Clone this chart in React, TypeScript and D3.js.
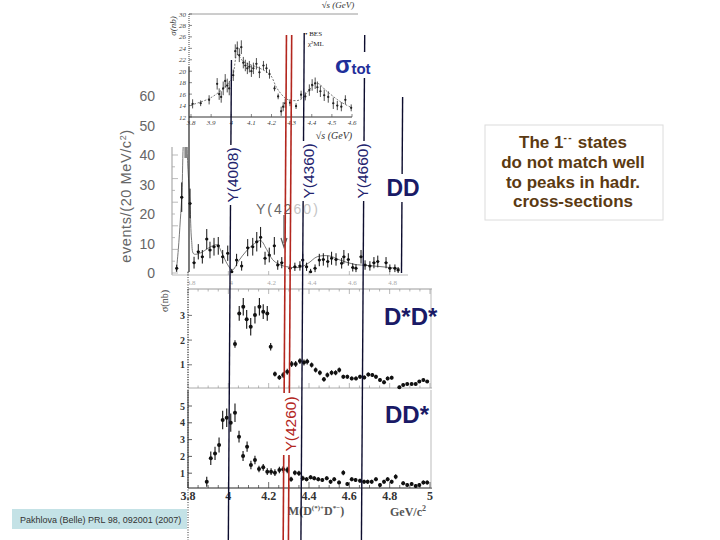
import React from "react";
import * as d3 from "d3";

// ---------------- data ----------------
// Top inset: BES R-scan, sigma(nb) vs sqrt(s) (GeV)
const besE = [3.808,3.848,3.890,3.930,3.940,3.950,3.960,3.970,3.980,3.990,4.010,4.020,4.030,4.040,4.050,4.060,4.070,4.080,4.090,4.100,4.110,4.125,4.140,4.160,4.175,4.190,4.215,4.233,4.248,4.258,4.268,4.292,4.322,4.347,4.368,4.388,4.402,4.417,4.428,4.443,4.462,4.482,4.507,4.527,4.547,4.567,4.596];
const besSigma = [14.3,14.4,15.0,17.8,16.0,15.5,17.0,18.3,17.5,17.0,19.3,23.5,24.0,22.8,24.2,21.5,21.0,20.5,20.8,20.0,20.5,21.3,19.8,21.0,20.5,19.5,17.0,15.6,13.0,13.8,14.4,14.5,13.9,15.9,15.6,16.7,17.6,17.9,17.2,16.5,15.8,15.5,14.4,14.0,13.8,15.0,13.6];
const besErr = [0.8,0.5,0.8,1.0,1.0,1.0,1.2,1.2,1.2,1.2,1.0,1.2,1.2,1.2,1.2,1.0,1.0,1.0,1.0,1.0,1.0,1.0,1.0,0.8,0.8,0.8,0.5,0.5,0.8,0.8,0.8,0.6,0.5,0.7,0.7,1.0,1.0,1.0,1.0,1.0,1.0,1.0,1.0,0.8,0.8,0.8,0.6];
const besFitE = [3.80,3.895,3.978,4.007,4.030,4.060,4.143,4.193,4.226,4.259,4.284,4.342,4.375,4.425,4.475,4.541,4.600];
const besFitSigma = [14.1,15.3,17.6,19.2,22.9,21.7,20.5,19.4,17.1,15.6,15.0,15.0,16.2,17.9,16.5,14.7,13.6];
const besYTicks = [12,14,16,18,20,22,24,26,28,30];
const besXTicks = [3.8,3.9,4.0,4.1,4.2,4.3,4.4,4.5,4.6];
const besXLabels = ["3.8","3.9","4","4.1","4.2","4.3","4.4","4.5","4.6"];

// Middle: D Dbar events / (20 MeV/c^2)
const ddMass = [3.744,3.769,3.810,3.830,3.851,3.871,3.893,3.909,3.929,3.950,3.972,3.997,4.017,4.041,4.066,4.096,4.121,4.141,4.160,4.182,4.203,4.228,4.245,4.265,4.306,4.330,4.355,4.369,4.388,4.408,4.430,4.451,4.471,4.493,4.512,4.534,4.562,4.573,4.595,4.617,4.633,4.658,4.678,4.702,4.722,4.741,4.782,4.801,4.826,4.842];
const ddEvents = [1.6,25.7,23.6,3.5,7.2,5.5,11.5,7.8,8.9,9.2,5.5,6.7,0.4,4.4,2.4,8.6,8.9,10.6,12.1,5.0,6.1,9.2,2.7,3.5,1.6,2.1,2.4,4.4,2.1,0.4,1.6,4.4,4.6,3.9,5.0,4.6,3.3,5.5,4.6,1.9,1.6,5.5,2.7,2.4,3.5,3.9,3.5,1.6,1.6,1.0];
const ddErr = [1.2,5,5,2,2.6,2.3,3.4,2.8,3,3,2.3,2.6,1,2.1,1.6,2.9,3,3.3,3.5,2.2,2.5,3,1.6,1.9,1.3,1.4,1.6,2.1,1.4,1,1.3,2.1,2.1,2,2.2,2.1,1.8,2.3,2.1,1.4,1.3,2.3,1.6,1.6,1.9,2,1.9,1.3,1.3,1];
const ddFitMass = [3.742,3.752,3.762,3.770,3.778,3.788,3.800,3.810,3.818,3.828,3.850,3.880,3.915,3.945,3.970,3.995,4.020,4.050,4.090,4.130,4.160,4.190,4.220,4.250,4.300,4.360,4.400,4.440,4.500,4.550,4.620,4.700,4.780,4.850];
const ddFitEvents = [0.5,8,18,27,45,50,35,23,11,6.5,6.5,7.5,9,9.5,6.5,3,1,4,7.5,10,11,8,4.5,3,2,2,3.5,5.5,5.8,4.5,3,2.5,2,1.5];
const ddYTicks = [0,10,20,30,40,50,60];
const ddXTicks = [3.8,4.0,4.2,4.4,4.6,4.8];
const ddXLabels = ["3.8","4","4.2","4.4","4.6","4.8"];

// D* D*bar sigma (nb)
const dsMass = [4.033,4.054,4.074,4.091,4.111,4.132,4.154,4.173,4.193,4.210,4.231,4.253,4.272,4.292,4.314,4.334,4.355,4.375,4.391,4.413,4.433,4.454,4.474,4.491,4.512,4.532,4.550,4.570,4.590,4.612,4.633,4.653,4.674,4.694,4.714,4.732,4.752,4.772,4.790,4.810,4.848,4.867,4.887,4.909,4.929,4.947,4.967,4.986];
const dsSigma = [1.84,3.08,3.35,2.84,2.54,3.02,3.35,3.15,3.08,1.73,0.63,0.49,0.59,0.72,1.03,1.03,1.15,1.09,1.13,0.99,0.79,0.68,0.41,0.59,0.68,0.68,0.79,0.52,0.52,0.45,0.45,0.52,0.49,0.61,0.59,0.52,0.38,0.29,0.45,0.48,0.09,0.18,0.22,0.22,0.22,0.32,0.38,0.32];
const dsErr = [0.15,0.3,0.35,0.38,0.35,0.35,0.35,0.3,0.3,0.15,0.1,0.1,0.12,0.12,0.12,0.12,0.12,0.12,0.12,0.1,0.1,0.1,0.1,0.1,0.1,0.1,0.1,0.08,0.08,0.08,0.08,0.08,0.08,0.08,0.08,0.08,0.08,0.08,0.08,0.08,0.06,0.06,0.06,0.06,0.06,0.06,0.06,0.06];
const dsYTicks = [1,2,3];

// D D*bar sigma (nb)
const dsdMass = [3.893,3.913,3.934,3.954,3.972,3.992,4.012,4.033,4.053,4.073,4.093,4.112,4.132,4.152,4.173,4.193,4.212,4.231,4.253,4.272,4.292,4.311,4.330,4.350,4.369,4.388,4.408,4.426,4.446,4.466,4.488,4.507,4.525,4.549,4.570,4.590,4.612,4.631,4.653,4.673,4.691,4.711,4.732,4.752,4.772,4.790,4.810,4.830,4.867,4.887,4.909,4.929,4.947,4.967,4.986];
const dsdSigma = [0.49,1.89,2.18,2.68,4.17,4.30,4.01,4.60,3.17,2.02,2.58,1.49,1.79,1.25,1.35,1.09,1.09,1.03,1.19,1.23,1.19,0.64,1.03,0.99,0.70,0.64,0.76,0.70,0.64,0.60,0.70,0.49,0.64,0.44,1.03,0.36,0.64,0.60,0.55,0.49,0.49,0.49,0.64,0.30,0.49,0.64,0.49,0.79,0.40,0.30,0.36,0.24,0.30,0.44,0.44];
const dsdErr = [0.3,0.4,0.4,0.45,0.55,0.55,0.55,0.55,0.35,0.3,0.3,0.25,0.25,0.2,0.2,0.2,0.2,0.2,0.2,0.2,0.2,0.15,0.15,0.15,0.15,0.12,0.12,0.12,0.12,0.12,0.12,0.12,0.12,0.12,0.15,0.12,0.12,0.12,0.12,0.12,0.12,0.12,0.12,0.12,0.12,0.12,0.12,0.15,0.12,0.12,0.12,0.12,0.12,0.12,0.12];
const dsdYTicks = [1,2,3,4,5];
const dsdXTicks = [3.8,4.0,4.2,4.4,4.6,4.8,5.0];
const dsdXLabels = ["3.8","4","4.2","4.4","4.6","4.8","5"];

// Resonance marker lines (GeV)
const resMass = [4.0, 4.36, 4.66];
const resLabels = ["Y(4008)", "Y(4360)", "Y(4660)"];
const y4260Mass = [4.272, 4.298];
const ddThreshMass = 4.85;

const panelLabels = ["DD", "D*D*", "DD*"];
const noteLines = ["do not match well", "to peaks in hadr.", "cross-sections"];
const citation = "Pakhlova (Belle) PRL 98, 092001 (2007)";

// ---------------- drawing ----------------
const serif = "'Liberation Serif', 'DejaVu Serif', serif";
const sans = "'Liberation Sans', Arial, sans-serif";
const navy = "#23236e";
const lineCol = "#0d0d2e";

type PtsProps = { xs: number[]; ys: number[]; es: number[]; x: any; y: any; r?: number; sw?: number; hw?: number; color?: string };
function Points({ xs, ys, es, x, y, r = 2, sw = 1, hw = 1.2, color = "#111" }: PtsProps) {
  const ymin = y.domain()[0];
  return (
    <g>
      {xs.map((m, i) => {
        const cx = x(m), cy = y(ys[i]);
        return (
          <g key={i}>
            <line x1={cx} x2={cx} y1={y(ys[i] + es[i])} y2={y(Math.max(ys[i] - es[i], ymin))} stroke={color} strokeWidth={sw} />
            <line x1={cx - hw} x2={cx + hw} y1={cy} y2={cy} stroke={color} strokeWidth={sw} />
            <circle cx={cx} cy={cy} r={r} fill={color} />
          </g>
        );
      })}
    </g>
  );
}

export default function App() {
  const W = 720, H = 540;
  const xG = d3.scaleLinear().domain([3.8, 5.0]).range([188, 430]);
  const tilt = (yy: number) => (3.5 * (540 - yy)) / 540;
  const xIn = d3.scaleLinear().domain([3.8, 4.6]).range([191, 352]);
  const yIn = d3.scaleLinear().domain([12, 30]).range([117, 14]);
  const yMid = d3.scaleLinear().domain([0, 60]).range([273, 96]);
  const yDs = d3.scaleLinear().domain([0, 3]).range([389.5, 315.4]);
  const yDD = d3.scaleLinear().domain([0, 5]).range([490, 406]);

  const besLine = d3.line<number>().x((d, i) => xIn(besFitE[i])).y((d) => yIn(d)).curve(d3.curveCatmullRom);
  const ddLine = d3.line<number>().x((d, i) => xG(ddFitMass[i])).y((d) => yMid(d)).curve(d3.curveCatmullRom);

  const minorDsd = d3.range(3.8, 5.0001, 0.05);
  const minorDs = d3.range(3.8, 5.0001, 0.05);
  const midYTicks = d3.range(0, 44, 4);

  const vx = (m: number, yy: number) => xG(m) + tilt(yy);
  const resOffset = [2, 5, -1];
  const resCenterY = [175, 171, 171];
  const resTop = [60, 33, 35];

  return (
    <svg width={W} height={H} viewBox={`0 0 ${W} ${H}`} style={{ position: "absolute", left: 0, top: 0, background: "#fff" }}>
      <rect x={0} y={0} width={W} height={H} fill="#fff" />
      <defs>
        <clipPath id="midclip"><rect x={172} y={147} width={240} height={130} /></clipPath>
      </defs>

      {/* ---------- top inset (BES) ---------- */}
      <text x={338} y={8} fontFamily={serif} fontStyle="italic" fontSize={9} fill="#333" textAnchor="middle">√s (GeV)</text>
      <line x1={189} x2={358} y1={yIn(30)} y2={yIn(30)} stroke="#9a9a9a" strokeWidth={1} />
      <line x1={189} x2={189} y1={yIn(30)} y2={67} stroke="#444" strokeWidth={1} strokeDasharray="1,1" />
      <line x1={189} x2={352} y1={yIn(12)} y2={yIn(12)} stroke="#333" strokeWidth={1} />
      {besYTicks.map((t) => (
        <g key={"by" + t}>
          <line x1={189} x2={192} y1={yIn(t)} y2={yIn(t)} stroke="#555" strokeWidth={0.7} />
          <text x={186} y={yIn(t) + 2.5} fontFamily={serif} fontStyle="italic" fontSize={7} fill="#444" textAnchor="end">{t}</text>
        </g>
      ))}
      {besXTicks.map((t, i) => (
        <g key={"bx" + t}>
          <line x1={xIn(t)} x2={xIn(t)} y1={yIn(12)} y2={yIn(12) - 3} stroke="#555" strokeWidth={0.7} />
          <text x={xIn(t)} y={125} fontFamily={serif} fontStyle="italic" fontSize={7} fill="#444" textAnchor="middle">{besXLabels[i]}</text>
        </g>
      ))}
      <text x={334} y={138.5} fontFamily={serif} fontStyle="italic" fontSize={10} fill="#333" textAnchor="middle">√s (GeV)</text>
      <text transform={`translate(176,26) rotate(-90)`} fontFamily={serif} fontStyle="italic" fontSize={9} fill="#333" textAnchor="middle">σ(nb)</text>
      <path d={besLine(besFitSigma) || ""} fill="none" stroke="#555" strokeWidth={0.8} strokeDasharray="2,1.5" />
      <Points xs={besE} ys={besSigma} es={besErr} x={xIn} y={yIn} r={1.1} sw={0.8} hw={0.8} color="#222" />
      <text x={305} y={36} fontFamily={serif} fontSize={7} fill="#222">• BES</text>
      <text x={308} y={46} fontFamily={serif} fontSize={7} fill="#222">χ²ML</text>

      {/* ---------- middle panel (D Dbar) ---------- */}
      {ddYTicks.map((t) => (
        <text key={"my" + t} x={155} y={yMid(t) + 5} fontFamily={sans} fontSize={14} fill="#666" textAnchor="end">{t}</text>
      ))}
      <text transform={`translate(131,196) rotate(-90)`} fontFamily={sans} fontSize={14.5} letterSpacing={0.6} fill="#666" textAnchor="middle">
        events/(20 MeV/c<tspan dy={-5} fontSize={9}>2</tspan><tspan dy={5}>)</tspan>
      </text>
      <line x1={172} x2={172} y1={147} y2={275} stroke="#999" strokeWidth={1} />
      {midYTicks.map((t) => (
        <line key={"mt" + t} x1={172} x2={t % 8 === 0 ? 178 : 175} y1={yMid(t)} y2={yMid(t)} stroke="#aaa" strokeWidth={0.8} />
      ))}
      <line x1={172} x2={408} y1={275} y2={275} stroke="#bbb" strokeWidth={1} />
      {ddXTicks.map((t, i) => (
        <g key={"mx" + t}>
          <line x1={xG(t)} x2={xG(t)} y1={275} y2={271} stroke="#aaa" strokeWidth={0.8} />
          <text x={xG(t) + 3} y={285} fontFamily={serif} fontSize={7} fill="#aaa" textAnchor="middle">{ddXLabels[i]}</text>
        </g>
      ))}
      <g clipPath="url(#midclip)">
        <path d={ddLine(ddFitEvents) || ""} fill="none" stroke="#777" strokeWidth={1} />
        <rect x={xG(3.782)} y={147} width={3} height={11} fill="#888" />
      </g>
      <Points xs={ddMass} ys={ddEvents} es={ddErr} x={xG} y={yMid} r={1.5} sw={1} hw={1.5} color="#111" />
      <text x={256} y={214} fontFamily={sans} fontSize={14} fill="#666" letterSpacing={2}>
        Y(42<tspan fill="#c4c4c4">60)</tspan>
      </text>
      <line x1={vx(4.266, 230)} x2={vx(4.266, 230)} y1={215} y2={243} stroke="#555" strokeWidth={1.2} />
      <path d={`M${vx(4.266, 230) - 3},${238} L${vx(4.266, 230)},${247} L${vx(4.266, 230) + 3},${238}`} fill="none" stroke="#555" strokeWidth={1.2} />

      {/* ---------- D* D*bar panel ---------- */}
      <line x1={188} x2={432} y1={289} y2={289} stroke="#9a9a9a" strokeWidth={1} />
      <line x1={431} x2={431} y1={289} y2={388} stroke="#bbb" strokeWidth={1} />
      <line x1={188} x2={432} y1={388} y2={388} stroke="#aaa" strokeWidth={1} />
      {minorDs.map((t, i) => (
        <g key={"dsm" + i}>
          <line x1={xG(t)} x2={xG(t)} y1={388} y2={i % 4 === 0 ? 383 : 385.5} stroke="#999" strokeWidth={0.7} />
          <line x1={xG(t)} x2={xG(t)} y1={289} y2={i % 4 === 0 ? 294 : 291.5} stroke="#999" strokeWidth={0.7} />
        </g>
      ))}
      <line x1={188} x2={188} y1={289} y2={388} stroke="#555" strokeWidth={1} strokeDasharray="1,1.5" />
      {dsYTicks.map((t) => (
        <g key={"dsy" + t}>
          <line x1={188} x2={192} y1={yDs(t)} y2={yDs(t)} stroke="#555" strokeWidth={0.8} />
          <text x={185} y={yDs(t) + 3.5} fontFamily={serif} fontWeight="bold" fontSize={10} fill="#333" textAnchor="end">{t}</text>
        </g>
      ))}
      <text transform={`translate(168,301) rotate(-90)`} fontFamily={serif} fontSize={10} fill="#444" textAnchor="middle">σ(nb)</text>
      <Points xs={dsMass} ys={dsSigma} es={dsErr} x={xG} y={yDs} r={2} sw={1.1} hw={1.2} color="#111" />

      {/* ---------- D D*bar panel ---------- */}
      <line x1={188} x2={432} y1={488} y2={488} stroke="#222" strokeWidth={1} />
      <line x1={431} x2={431} y1={390} y2={488} stroke="#bbb" strokeWidth={1} />
      <line x1={188} x2={188} y1={390} y2={488} stroke="#222" strokeWidth={1} />
      {minorDsd.map((t, i) => (
        <line key={"dm" + i} x1={xG(t)} x2={xG(t)} y1={488} y2={i % 4 === 0 ? 482 : 485} stroke="#333" strokeWidth={0.7} />
      ))}
      {dsdYTicks.map((t) => (
        <g key={"ddy" + t}>
          <line x1={188} x2={192} y1={yDD(t)} y2={yDD(t)} stroke="#333" strokeWidth={0.8} />
          <text x={185} y={yDD(t) + 3.5} fontFamily={serif} fontWeight="bold" fontSize={10} fill="#333" textAnchor="end">{t}</text>
        </g>
      ))}
      {dsdXTicks.map((t, i) => (
        <text key={"ddx" + t} x={xG(t)} y={500} fontFamily={serif} fontWeight="bold" fontSize={12} fill="#333" textAnchor="middle">{dsdXLabels[i]}</text>
      ))}
      <text x={316} y={515} fontFamily={serif} fontWeight="bold" fontSize={12} fill="#555" textAnchor="middle">
        M(D<tspan dy={-5} fontSize={7}>(*)+</tspan><tspan dy={5}>D</tspan><tspan dy={-5} fontSize={7}>*−</tspan><tspan dy={5}>)</tspan>
      </text>
      <text x={408} y={516} fontFamily={serif} fontWeight="bold" fontSize={12} fill="#555" textAnchor="middle">
        GeV/c<tspan dy={-5} fontSize={8}>2</tspan>
      </text>
      <Points xs={dsdMass} ys={dsdSigma} es={dsdErr} x={xG} y={yDD} r={2} sw={1.1} hw={1.2} color="#111" />

      {/* ---------- vertical marker lines ---------- */}
      <line x1={189} x2={189} y1={67} y2={272} stroke="#222" strokeWidth={1.2} />
      <line x1={188} x2={188} y1={272} y2={540} stroke="#333" strokeWidth={1} strokeDasharray="1,1.5" />
      {resMass.map((m, i) => (
        <line key={"rl" + i} x1={vx(m, resTop[i])} y1={resTop[i]} x2={vx(m, 540)} y2={540} stroke={lineCol} strokeWidth={1.4} />
      ))}
      <line x1={vx(ddThreshMass, 97)} y1={97} x2={vx(ddThreshMass, 273)} y2={273} stroke={lineCol} strokeWidth={1.4} />
      {y4260Mass.map((m, i) => (
        <line key={"red" + i} x1={vx(m, 35)} y1={35} x2={vx(m, 540)} y2={540} stroke="#b3261e" strokeWidth={1.6} />
      ))}

      {/* ---------- labels on lines ---------- */}
      {resMass.map((m, i) => {
        const cx = vx(m, resCenterY[i]) + resOffset[i];
        const cy = resCenterY[i];
        return (
          <g key={"rlab" + i}>
            <rect x={cx - 8} y={cy - 30} width={16} height={60} fill="#fff" />
            <text transform={`translate(${cx},${cy}) rotate(-90)`} fontFamily={sans} fontSize={15.5} fill={navy} textAnchor="middle" dominantBaseline="central">{resLabels[i]}</text>
          </g>
        );
      })}
      <rect x={385} y={174} width={34} height={28} fill="#fff" />
      <text x={vx(ddThreshMass, 186) + 1} y={196} fontFamily={sans} fontWeight="bold" fontSize={23} fill="#1a1a66" textAnchor="middle">{panelLabels[0]}</text>
      <text x={384} y={325} fontFamily={sans} fontWeight="bold" fontSize={24} fill="#1a1a66">{panelLabels[1]}</text>
      <text x={385} y={423} fontFamily={sans} fontWeight="bold" fontSize={24} fill="#1a1a66">{panelLabels[2]}</text>
      <rect x={282} y={393} width={16} height={62} fill="#fff" />
      <text transform={`translate(290,424) rotate(-90)`} fontFamily={sans} fontSize={15.5} fill="#b3261e" textAnchor="middle" dominantBaseline="central">Y(4260)</text>
      <rect x={330} y={52} width={48} height={26} fill="#fff" />
      <text x={335} y={73} fontFamily={sans} fontWeight="bold" fill="#1f2f9a">
        <tspan fontSize={24}>σ</tspan><tspan fontSize={15} dy={1}>tot</tspan>
      </text>

      {/* ---------- note box ---------- */}
      <rect x={485} y={125} width={178} height={95} fill="#fff" stroke="#dcdcdc" strokeWidth={1} />
      <text x={573} y={148} fontFamily={sans} fontWeight="bold" fontSize={17} fill="#5b3a12" textAnchor="middle">
        The 1<tspan dy={-7} fontSize={10} letterSpacing={1.5}>--</tspan><tspan dy={7}> states</tspan>
      </text>
      {noteLines.map((s, i) => (
        <text key={"nl" + i} x={573} y={168 + i * 19.5} fontFamily={sans} fontWeight="bold" fontSize={17} fill="#5b3a12" textAnchor="middle">{s}</text>
      ))}

      {/* ---------- citation ---------- */}
      <rect x={12} y={509} width={175} height={20} fill="#c4e2e6" />
      <text x={20} y={523} fontFamily={sans} fontSize={9} fill="#333">{citation}</text>
    </svg>
  );
}
